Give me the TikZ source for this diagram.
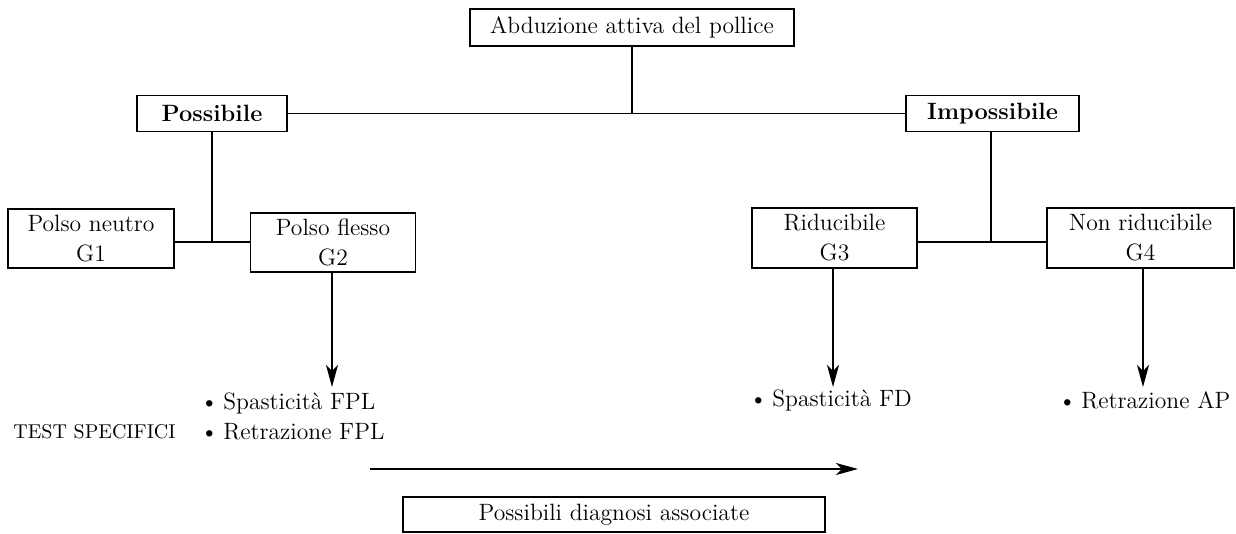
\documentclass[tikz,border=0pt]{standalone}
\usepackage{fontspec}
\usetikzlibrary{arrows.meta}
\newcommand{\bul}{\textbullet\kern2.5pt}
\begin{document}
\begin{tikzpicture}[x=0.5pt,y=-0.5pt,
  box/.style={draw, line width=0.7pt, inner sep=0pt, align=center,
    font=\fontsize{11.8}{15}\selectfont},
  lbl/.style={inner sep=0pt, anchor=west, font=\fontsize{11.8}{15}\selectfont},
  conn/.style={line width=0.7pt},
  arr/.style={line width=0.7pt, -{Stealth[length=11pt,width=6pt,inset=3pt]}}]
\useasboundingbox (0,0) rectangle (1236,534);
% boxes
\node[box, minimum width=162pt, minimum height=18.5pt] (top) at (632,27.5) {Abduzione attiva del pollice};
\node[box, minimum width=75pt, minimum height=18pt, font=\fontsize{11.8}{15}\selectfont\bfseries] (poss) at (212,113.5) {Possibile};
\node[box, minimum width=86.5pt, minimum height=18pt, font=\fontsize{11.8}{15}\selectfont\bfseries] (imp) at (992.5,113.5) {Impossibile};
\node[box, minimum width=83pt, minimum height=29.5pt] (g1) at (91,238.5) {Polso neutro\\G1};
\node[box, minimum width=82.5pt, minimum height=29.5pt] (g2) at (333,242.5) {Polso flesso\\G2};
\node[box, minimum width=82.5pt, minimum height=30pt] (g3) at (834.5,238) {Riducibile\\G3};
\node[box, minimum width=93.5pt, minimum height=30pt] (g4) at (1140.5,238) {Non riducibile\\G4};
\node[box, minimum width=211pt, minimum height=17.5pt] (diag) at (614,514.5) {Possibili diagnosi associate};
% junctions
\coordinate (j1) at (632,113.5);
\coordinate (j2) at (212,242);
\coordinate (j3) at (991,242);
% connectors
\draw[conn] (top.south) -- (j1);
\draw[conn] (poss.east) -- (imp.west);
\draw[conn] (poss.south) -- (j2);
\draw[conn] (g1.east |- j2) -- (g2.west |- j2);
\draw[conn] (imp.south -| j3) -- (j3);
\draw[conn] (g3.east |- j3) -- (g4.west |- j3);
% arrow targets
\coordinate (t2) at (332,387);
\coordinate (t3) at (833,387);
\coordinate (t4) at (1143,387);
\draw[arr] (g2.south -| t2) -- (t2);
\draw[arr] (g3.south -| t3) -- (t3);
\draw[arr] (g4.south -| t4) -- (t4);
% labels
\node[lbl] (s1) at (200,403) {\bul Spasticità FPL};
\node[lbl] (r1) at (200,432) {\bul Retrazione FPL};
\node[lbl, font=\fontsize{10}{12}\selectfont] (test) at (13,432) {TEST SPECIFICI};
\node[lbl] (s3) at (749,400) {\bul Spasticità FD};
\node[lbl] (r4) at (1058,400) {\bul Retrazione AP};
% long arrow
\coordinate (la) at (370,469);
\coordinate (lb) at (858,469);
\draw[arr] (la) -- (lb);
\end{tikzpicture}
\end{document}
